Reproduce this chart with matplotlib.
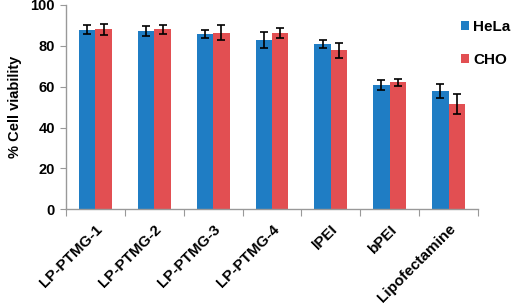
import matplotlib
matplotlib.use("Agg")
import matplotlib.pyplot as plt
import numpy as np

categories = ["LP-PTMG-1", "LP-PTMG-2", "LP-PTMG-3", "LP-PTMG-4", "lPEI", "bPEI", "Lipofectamine"]
hela = [88.0, 87.1, 86.0, 82.9, 80.8, 60.8, 58.0]
hela_err = [2.0, 2.4, 2.0, 3.8, 2.0, 2.4, 3.3]
cho = [88.2, 88.1, 86.4, 86.4, 77.8, 62.1, 51.5]
cho_err = [2.7, 2.2, 3.7, 2.4, 3.5, 1.8, 4.7]
yticks = [0, 20, 40, 60, 80, 100]

plt.rcParams['font.family'] = ['Liberation Sans', 'DejaVu Sans']
fig = plt.figure(figsize=(5.12, 3.08), dpi=100)
ax = fig.add_axes([66/512, 1-209.3/308, 412/512, 204.3/308])

x = np.arange(len(categories))
w = 0.28
ekw = dict(ecolor='black', elinewidth=1.2, capsize=3, capthick=1.2)
ax.bar(x - w/2, hela, w, yerr=hela_err, color='#1f7dc4', label='HeLa', error_kw=ekw)
ax.bar(x + w/2, cho, w, yerr=cho_err, color='#e24f52', label='CHO', error_kw=ekw)

ax.set_xlim(-0.5, len(categories) - 0.5)
ax.set_ylim(0, 100)
ax.set_yticks(yticks)
ax.set_yticklabels([str(v) for v in yticks], fontsize=10.5, fontweight='bold')
ax.set_xticks(np.arange(-0.5, len(categories), 1.0))
ax.set_xticklabels([])
ax.set_xticks(x, minor=True)
ax.set_xticklabels(categories, minor=True, rotation=45, ha='right', va='top',
                   rotation_mode='anchor', fontsize=11, fontweight='bold')
ax.tick_params(axis='x', which='minor', length=0, pad=9)
ax.tick_params(axis='x', which='major', length=5, color='#999999', direction='out')
ax.tick_params(axis='y', length=4, color='#999999', pad=4)
for s in ['top', 'right']:
    ax.spines[s].set_visible(False)
for s in ['left', 'bottom']:
    ax.spines[s].set_color('#999999')
    ax.spines[s].set_linewidth(1.0)
ax.set_ylabel('% Cell viability', fontsize=10.5, fontweight='bold', labelpad=6)

h, l = ax.get_legend_handles_labels()
leg = fig.legend(h, l, loc='upper left', bbox_to_anchor=(458/512, 1-17/308), frameon=False,
                 handlelength=0.5, handleheight=0.5, handletextpad=0.3,
                 labelspacing=1.25, borderpad=0.2, borderaxespad=0,
                 prop={'weight': 'bold', 'size': 11})

fig.savefig('out.png', dpi=100)
